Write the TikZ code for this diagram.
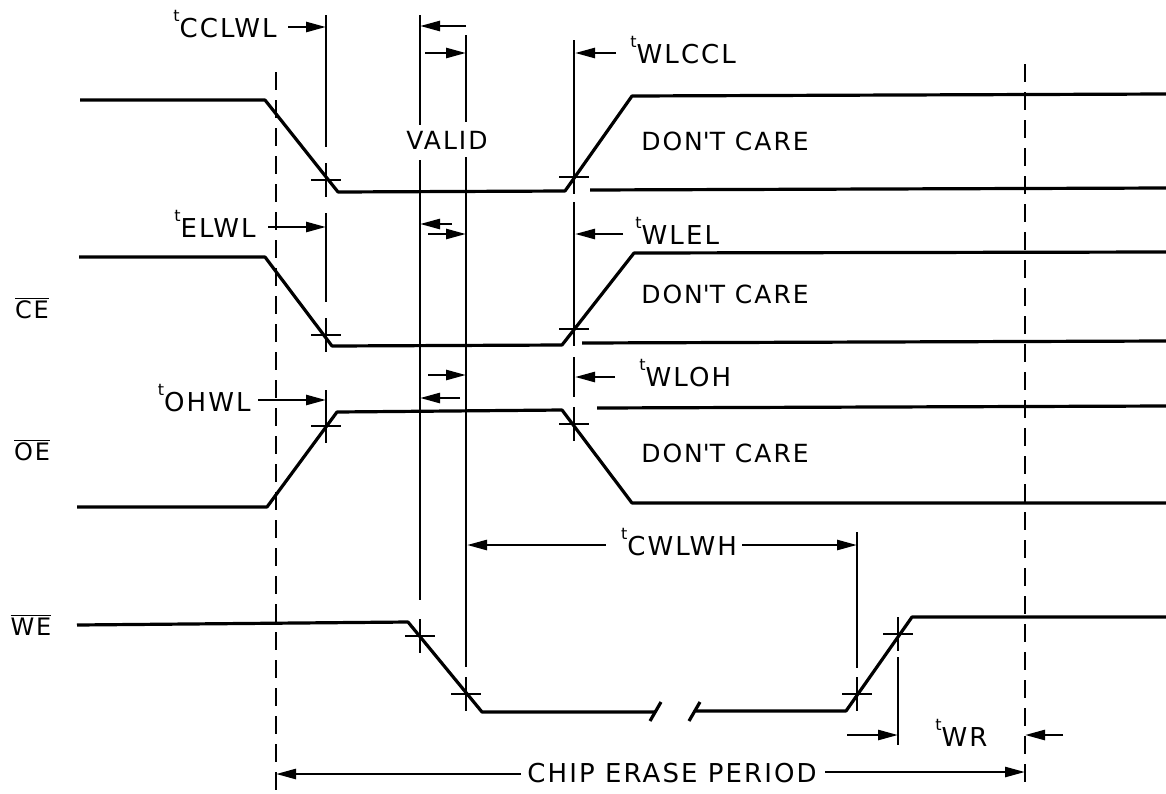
\documentclass[tikz,border=0pt]{standalone}
\usepackage{fontspec}
\setmainfont{DejaVu Sans}[LetterSpace=8]
\usetikzlibrary{arrows.meta}

\newcommand{\tlabel}[1]{\raisebox{0.6em}{\footnotesize t}#1}

\begin{document}
\begin{tikzpicture}
            [x=0.5pt, y=-0.5pt,
             sig/.style={line width=1.6pt, line join=round},
             ext/.style={line width=1.3pt},
             refline/.style={line width=1.4pt, dash pattern=on 9pt off 5pt},
             dim/.style={line width=1.3pt, -{Triangle[length=10pt,width=5pt]}},
             lbl/.style={font=\fontsize{13}{15}\selectfont, inner sep=0pt},
             care/.style={font=\fontsize{12.5}{15}\selectfont, inner sep=0pt},
             sname/.style={font=\fontsize{12}{14}\selectfont, inner sep=0pt},
             crossing/.pic={\draw[ext] (-15,0) -- (15,0) (0,-17) -- (0,17);}]

            \useasboundingbox (0,0) rectangle (1166,793);

            % signal names
            \node[sname] (ceName) at (32,308) {$\overline{\mbox{CE}}$};
            \node[sname] (oeName) at (32,450) {$\overline{\mbox{OE}}$};
            \node[sname] (weName) at (31,625) {$\overline{\mbox{WE}}$};

            % waveforms
            \draw[sig] (80,100) -- (265,100) -- (338,192) -- (565,191) -- (632,96) -- (1166,94);
            \draw[sig] (590,190) -- (1166,188);
            \draw[sig] (79,257) -- (265,257) -- (332,346) -- (562,345) -- (634,253) -- (1166,252);
            \draw[sig] (582,343) -- (1166,341);
            \draw[sig] (77,507) -- (267,507) -- (337,412) -- (562,410) -- (632,503) -- (1166,503);
            \draw[sig] (597,408) -- (1166,406);
            \draw[sig] (77,625) -- (408,622) -- (482,712) -- (655,712);
            \draw[sig] (696,711) -- (846,711) -- (912,617) -- (1166,617);
            \draw[sig] (650,721) -- (661,702);
            \draw[sig] (689,721) -- (700,702);

            \node[care] (care1) at (725,141) {DON\textquotesingle T CARE};
            \node[care] (care2) at (725,294) {DON\textquotesingle T CARE};
            \node[care] (care3) at (725,453) {DON\textquotesingle T CARE};

            % reference lines
            \draw[refline] (276,72) -- (276,790);
            \draw[refline] (1025,64) -- (1025,782);

            \draw[ext] (326,15) -- (326,147) (326,213) -- (326,302) (326,390) -- (326,426);
            \draw[ext] (420,15) -- (420,125) (420,160) -- (420,600);
            \draw[ext] (466,35) -- (466,122) (466,157) -- (466,667);
            \draw[ext] (574,40) -- (574,160) (574,202) -- (574,318) (574,357) -- (574,397);
            \draw[ext] (857,532) -- (857,668);
            \draw[ext] (898,657) -- (898,745);

            \pic at (326,180) {crossing};
            \pic at (326,335) {crossing};
            \pic at (326,426) {crossing};
            \pic at (574,177) {crossing};
            \pic at (574,329) {crossing};
            \pic at (574,424) {crossing};
            \pic at (420,636) {crossing};
            \pic at (466,694) {crossing};
            \pic at (857,694) {crossing};
            \pic at (898,634) {crossing};

            % timing labels
            \node[lbl, anchor=base east] (cclwl) at (277,37) {\tlabel{CCLWL}};
            \node[lbl, anchor=base east] (elwl) at (256,237) {\tlabel{ELWL}};
            \node[lbl, anchor=base east] (ohwl) at (251,411) {\tlabel{OHWL}};
            \node[lbl, anchor=base west] (wlccl) at (630,63) {\tlabel{WLCCL}};
            \node[lbl, anchor=base west] (wlel) at (635,244) {\tlabel{WLEL}};
            \node[lbl, anchor=base west] (wloh) at (639,386) {\tlabel{WLOH}};
            \node[lbl, anchor=base] (cwlwh) at (679,555) {\tlabel{CWLWH}};
            \node[lbl, anchor=base west] (wr) at (935,746) {\tlabel{WR}};
            \node[lbl, anchor=base] (erase) at (672,782) {CHIP ERASE PERIOD};
            \node[care] (valid) at (447,140) {VALID};

            \coordinate (cclwlTip) at (326,27);
            \coordinate (elwlTip) at (326,227);
            \coordinate (ohwlTip) at (326,400);
            \coordinate (wlcclTip) at (575,53);
            \coordinate (wlelTip) at (575,234);
            \coordinate (wlohTip) at (575,377);
            \coordinate (cwlwhLeft) at (467,545);
            \coordinate (cwlwhRight) at (857,545);
            \coordinate (eraseLeft) at (276,774);
            \coordinate (eraseRight) at (1025,772);

            \draw[dim, shorten <=5.5pt] (cclwl.east |- cclwlTip) -- (cclwlTip);
            \draw[dim, shorten <=6pt] (elwl.east |- elwlTip) -- (elwlTip);
            \draw[dim, shorten <=3.5pt] (ohwl.east |- ohwlTip) -- (ohwlTip);
            \draw[dim, shorten <=7pt] (wlccl.west |- wlcclTip) -- (wlcclTip);
            \draw[dim, shorten <=6pt] (wlel.west |- wlelTip) -- (wlelTip);
            \draw[dim, shorten <=12pt] (wloh.west |- wlohTip) -- (wlohTip);
            \draw[dim, shorten <=7.5pt] (cwlwh.west |- cwlwhLeft) -- (cwlwhLeft);
            \draw[dim, shorten <=2.5pt] (cwlwh.east |- cwlwhRight) -- (cwlwhRight);
            \draw[dim, shorten <=3pt] (erase.west |- eraseLeft) -- (eraseLeft);
            \draw[dim, shorten <=4pt] (erase.east |- eraseRight) -- (eraseRight);

            % arrows between the VALID lines and round t_WR
            \coordinate (v1a) at (466,26);  \coordinate (v1b) at (420,26);
            \coordinate (v2a) at (425,53);  \coordinate (v2b) at (466,53);
            \coordinate (v3a) at (452,224); \coordinate (v3b) at (420,224);
            \coordinate (v4a) at (428,234); \coordinate (v4b) at (466,234);
            \coordinate (v5a) at (428,375); \coordinate (v5b) at (466,375);
            \coordinate (v6a) at (460,398); \coordinate (v6b) at (420,398);
            \coordinate (wrA) at (847,735); \coordinate (wrB) at (898,735);
            \coordinate (wrC) at (1063,735); \coordinate (wrD) at (1025,735);

            \foreach \a/\b in {v1a/v1b, v2a/v2b, v3a/v3b, v4a/v4b, v5a/v5b, v6a/v6b, wrA/wrB, wrC/wrD}
                \draw[dim] (\a) -- (\b);
        \end{tikzpicture}
\end{document}
